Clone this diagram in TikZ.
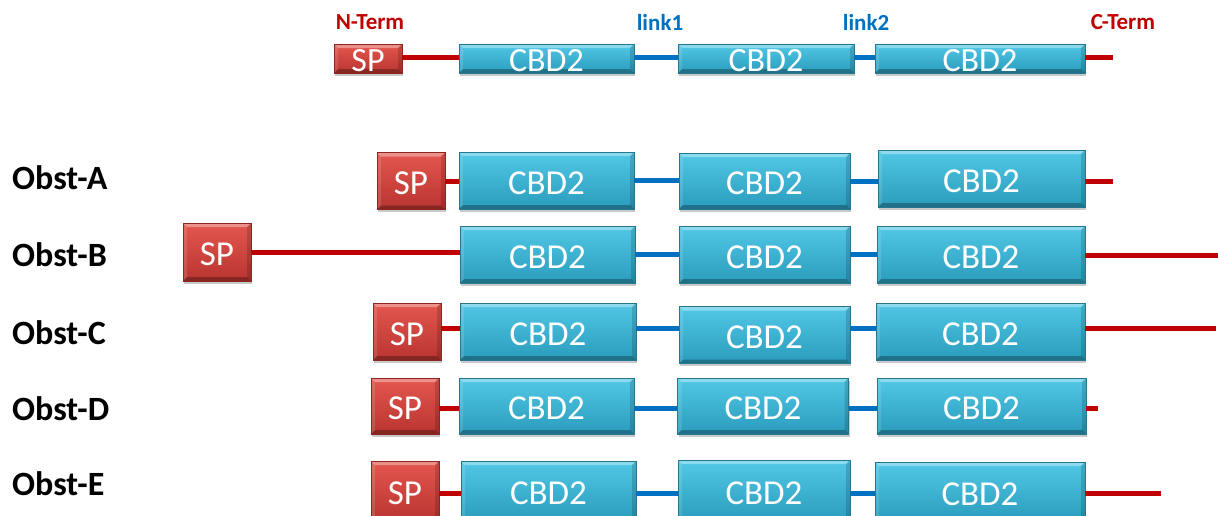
\documentclass[tikz,border=0pt]{standalone}
\usepackage{fontspec}
\setmainfont{Carlito}
\usetikzlibrary{shadows}
\definecolor{cbdtop}{HTML}{52C8E6}
\definecolor{cbdbot}{HTML}{2A9BBC}
\definecolor{cbdedge}{HTML}{23788F}
\definecolor{sptop}{HTML}{E4574F}
\definecolor{spbot}{HTML}{B93430}
\definecolor{spedge}{HTML}{8E2523}
\definecolor{linkred}{HTML}{C00000}
\definecolor{linkblue}{HTML}{0070C0}
\tikzset{
  bevel/.style={path picture={
    \fill[white,opacity=0.35] (path picture bounding box.north west) -- (path picture bounding box.north east)
      -- ([shift={(-4pt,-4pt)}]path picture bounding box.north east) -- ([shift={(4pt,-4pt)}]path picture bounding box.north west) -- cycle;
    \fill[black,opacity=0.28] (path picture bounding box.south west) -- (path picture bounding box.south east)
      -- ([shift={(-4pt,4pt)}]path picture bounding box.south east) -- ([shift={(4pt,4pt)}]path picture bounding box.south west) -- cycle;
    \fill[white,opacity=0.12] (path picture bounding box.north west) -- ([shift={(4pt,-4pt)}]path picture bounding box.north west)
      -- ([shift={(4pt,4pt)}]path picture bounding box.south west) -- (path picture bounding box.south west) -- cycle;
    \fill[black,opacity=0.15] (path picture bounding box.north east) -- ([shift={(-4pt,-4pt)}]path picture bounding box.north east)
      -- ([shift={(-4pt,4pt)}]path picture bounding box.south east) -- (path picture bounding box.south east) -- cycle;
  }},
  boxbase/.style={rectangle, inner sep=0pt, text=white, line width=0.6pt, bevel,
    text height=27pt, text depth=0pt,
    drop shadow={shadow xshift=1pt, shadow yshift=-2.5pt, opacity=0.3, fill=black!70}},
  cbd/.style={boxbase, top color=cbdtop, bottom color=cbdbot, draw=cbdedge, font=\fontsize{35}{38}\selectfont},
  spbox/.style={boxbase, top color=sptop, bottom color=spbot, draw=spedge, font=\fontsize{35}{38}\selectfont},
  small/.style={font=\fontsize{34}{36}\selectfont, text height=26pt},
  redln/.style={draw=linkred, line width=5pt},
  blueln/.style={draw=linkblue, line width=5pt},
  rowlabel/.style={anchor=west, inner sep=0pt, font=\bfseries\fontsize{34}{36}\selectfont},
  toplabel/.style={inner sep=0pt, font=\bfseries\fontsize{23}{25}\selectfont}
}
\begin{document}
\begin{tikzpicture}[x=1pt,y=-1pt]
\useasboundingbox (0,0) rectangle (1218,515);

% top labels
\node[toplabel, text=linkred] (nterm) at (370,22) {N-Term};
\node[toplabel, text=linkblue] (link1) at (660,22) {link1};
\node[toplabel, text=linkblue] (link2) at (866,22) {link2};
\node[toplabel, text=linkred] (cterm) at (1123,22) {C-Term};

% row labels
\node[rowlabel] (la) at (12,178) {Obst-A};
\node[rowlabel] (lb) at (12,255) {Obst-B};
\node[rowlabel] (lc) at (12,333) {Obst-C};
\node[rowlabel] (ld) at (12,409) {Obst-D};
\node[rowlabel] (le) at (12,484) {Obst-E};

% top construct
\node[spbox, small, minimum width=68pt, minimum height=29pt] (sp0) at (368,58.5) {SP};
\node[cbd, small, minimum width=175pt, minimum height=29pt] (c01) at (546.5,58.5) {CBD2};
\node[cbd, small, minimum width=176pt, minimum height=29pt] (c02) at (766,58.5) {CBD2};
\node[cbd, small, minimum width=210pt, minimum height=29pt] (c03) at (980,58.5) {CBD2};
\coordinate (e0) at (1113,57);
\draw[redln] (sp0.east |- e0) -- (c01.west |- e0);
\draw[blueln] (c01.east |- e0) -- (c02.west |- e0);
\draw[blueln] (c02.east |- e0) -- (c03.west |- e0);
\draw[redln] (c03.east |- e0) -- (e0);

% Obst-A
\node[spbox, minimum width=68pt, minimum height=57pt] (spa) at (411,181) {SP};
\node[cbd, minimum width=175pt, minimum height=57pt] (ca1) at (546.5,180.5) {CBD2};
\node[cbd, minimum width=171pt, minimum height=56pt] (ca2) at (764.5,181) {CBD2};
\node[cbd, minimum width=207pt, minimum height=57pt] (ca3) at (981.5,178.5) {CBD2};
\coordinate (ea) at (1113,181);
\draw[redln] (spa.east) -- (spa.east -| ca1.west);
\draw[blueln] (ca1.east) -- (ca1.east -| ca2.west);
\draw[blueln] (ca2.east) -- (ca2.east -| ca3.west);
\draw[redln] (ca3.east |- ea) -- (ea);

% Obst-B
\node[spbox, minimum width=68pt, minimum height=58pt] (spb) at (217,252) {SP};
\node[cbd, minimum width=175pt, minimum height=57pt] (cb1) at (547.5,254.5) {CBD2};
\node[cbd, minimum width=171pt, minimum height=57pt] (cb2) at (764.5,254.5) {CBD2};
\node[cbd, minimum width=208pt, minimum height=57pt] (cb3) at (981,254.5) {CBD2};
\coordinate (eb) at (1218,255);
\draw[redln] (spb.east) -- (spb.east -| cb1.west);
\draw[blueln] (cb1) -- (cb2);
\draw[blueln] (cb2) -- (cb3);
\draw[redln] (cb3.east |- eb) -- (eb);

% Obst-C
\node[spbox, minimum width=68pt, minimum height=57pt] (spc) at (407,331.5) {SP};
\node[cbd, minimum width=176pt, minimum height=57pt] (cc1) at (548,331.5) {CBD2};
\node[cbd, minimum width=171pt, minimum height=57pt] (cc2) at (764.5,335) {CBD2};
\node[cbd, minimum width=209pt, minimum height=57pt] (cc3) at (980.5,331.5) {CBD2};
\coordinate (ec) at (1216,328);
\draw[redln] (spc.east |- ec) -- (cc1.west |- ec);
\draw[blueln] (cc1.east |- ec) -- (cc2.west |- ec);
\draw[blueln] (cc2.east |- ec) -- (cc3.west |- ec);
\draw[redln] (cc3.east |- ec) -- (ec);

% Obst-D
\node[spbox, minimum width=68pt, minimum height=56pt] (spd) at (405,406) {SP};
\node[cbd, minimum width=175pt, minimum height=56pt] (cd1) at (546.5,406) {CBD2};
\node[cbd, minimum width=171pt, minimum height=56pt] (cd2) at (763,406) {CBD2};
\node[cbd, minimum width=209pt, minimum height=56pt] (cd3) at (981.5,406) {CBD2};
\coordinate (ed) at (1098,408);
\draw[redln] (spd.east |- ed) -- (cd1.west |- ed);
\draw[blueln] (cd1.east |- ed) -- (cd2.west |- ed);
\draw[blueln] (cd2.east |- ed) -- (cd3.west |- ed);
\draw[redln] (cd3.east |- ed) -- (ed);

% Obst-E
\node[spbox, minimum width=68pt, minimum height=60pt] (spe) at (405,491) {SP};
\node[cbd, minimum width=175pt, minimum height=60pt] (ce1) at (548.5,491) {CBD2};
\node[cbd, minimum width=172pt, minimum height=62pt] (ce2) at (764,491) {CBD2};
\node[cbd, minimum width=210pt, minimum height=60pt] (ce3) at (980,492) {CBD2};
\coordinate (ee) at (1161,493);
\draw[redln] (spe.east |- ee) -- (ce1.west |- ee);
\draw[blueln] (ce1.east |- ee) -- (ce2.west |- ee);
\draw[blueln] (ce2.east |- ee) -- (ce3.west |- ee);
\draw[redln] (ce3.east |- ee) -- (ee);
\end{tikzpicture}
\end{document}
